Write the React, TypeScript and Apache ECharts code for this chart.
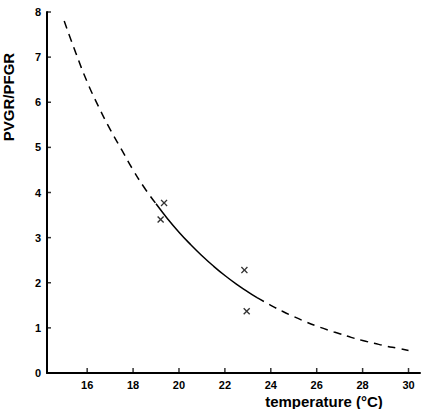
import React, { useEffect, useRef } from "react";
import * as echarts from "echarts";

// curve (temperature °C, PVGR/PFGR)
const curveXLeft = [15, 15.5, 16, 16.5, 17, 17.5, 18, 18.5, 19];
const curveYLeft = [7.8, 7.1, 6.45, 5.9, 5.4, 4.95, 4.5, 4.1, 3.75];
const curveXMid = [19, 19.5, 20, 20.5, 21, 21.5, 22, 22.5, 23, 23.4];
const curveYMid = [3.75, 3.42, 3.12, 2.85, 2.6, 2.37, 2.16, 1.97, 1.8, 1.67];
const curveXRight = [23.4, 24, 24.5, 25, 25.5, 26, 26.5, 27, 27.5, 28, 28.5, 29, 29.5, 30];
const curveYRight = [1.67, 1.5, 1.37, 1.25, 1.14, 1.04, 0.95, 0.87, 0.79, 0.72, 0.66, 0.6, 0.55, 0.5];

const obsX = [19.2, 19.35, 22.85, 22.95];
const obsY = [3.4, 3.77, 2.28, 1.37];

const xMin = 14.25;
const xMax = 30.5;
const yMin = 0;
const yMax = 8;
const xTicks = [16, 18, 20, 22, 24, 26, 28, 30];
const yTicks = [1, 2, 3, 4, 5, 6, 7, 8];

const zip = (xs: number[], ys: number[]) => xs.map((x, i) => [x, ys[i]]);

const CROSS =
  "path://M0,1.4L1.4,0L5,3.6L8.6,0L10,1.4L6.4,5L10,8.6L8.6,10L5,6.4L1.4,10L0,8.6L3.6,5Z";

export default function App() {
  const ref = useRef<HTMLDivElement>(null);
  useEffect(() => {
    const chart = echarts.init(ref.current!, null, { renderer: "svg" });
    const lab = { color: "#000", fontSize: 11, fontWeight: "bold" as const, fontFamily: "Liberation Sans" };
    chart.setOption({
      animation: false,
      backgroundColor: "#fff",
      grid: { left: 47, top: 12, right: 2, bottom: 36 },
      xAxis: {
        type: "value",
        min: xMin,
        max: xMax,
        splitLine: { show: false },
        axisLine: { show: true, onZero: false, lineStyle: { color: "#000", width: 2 } },
        axisTick: { show: false },
        axisLabel: { ...lab, customValues: xTicks, margin: 6 },
      },
      yAxis: {
        type: "value",
        min: yMin,
        max: yMax,
        interval: 1,
        splitLine: { show: false },
        axisLine: { show: true, onZero: false, lineStyle: { color: "#000", width: 2 } },
        axisTick: { show: false },
        axisLabel: { ...lab, margin: 6 },
      },
      series: [
        {
          // left axis line
          type: "line",
          data: [
            [xMin, yMin],
            [xMin, yMax],
          ],
          showSymbol: false,
          clip: false,
          silent: true,
          lineStyle: { color: "#000", width: 2 },
        },
        {
          // x-axis tick marks (pointing up, inside the plot)
          type: "scatter",
          data: xTicks.map((t) => [t, yMin]),
          symbol: "rect",
          symbolSize: [1.5, 5],
          symbolOffset: [0, -2.5],
          itemStyle: { color: "#000" },
          silent: true,
          clip: false,
        },
        {
          // y-axis tick marks (pointing right, inside the plot)
          type: "scatter",
          data: yTicks.map((t) => [xMin, t]),
          symbol: "rect",
          symbolSize: [4, 1.5],
          symbolOffset: [2, 0],
          itemStyle: { color: "#000" },
          silent: true,
          clip: false,
        },
        {
          type: "line",
          data: zip(curveXLeft, curveYLeft),
          smooth: true,
          showSymbol: false,
          lineStyle: { color: "#000", width: 1.5, type: [8, 6] },
        },
        {
          type: "line",
          data: zip(curveXMid, curveYMid),
          smooth: true,
          showSymbol: false,
          lineStyle: { color: "#000", width: 1.5, type: "solid" },
        },
        {
          type: "line",
          data: zip(curveXRight, curveYRight),
          smooth: true,
          showSymbol: false,
          lineStyle: { color: "#000", width: 1.5, type: [8, 6] },
        },
        {
          type: "scatter",
          data: zip(obsX, obsY),
          symbol: CROSS,
          symbolSize: 7,
          itemStyle: { color: "#000" },
        },
      ],
      graphic: [
        {
          type: "text",
          x: 8,
          y: 97,
          rotation: Math.PI / 2,
          style: {
            text: "PVGR/PFGR",
            fontSize: 15,
            fontWeight: "bold",
            fontFamily: "Liberation Sans",
            fill: "#000",
            align: "center",
            verticalAlign: "middle",
          },
        },
        {
          type: "text",
          x: 324,
          y: 401,
          style: {
            text: "temperature (°C)",
            fontSize: 15,
            fontWeight: "bold",
            fontFamily: "Liberation Sans",
            fill: "#000",
            align: "center",
            verticalAlign: "middle",
          },
        },
      ],
    });
    return () => chart.dispose();
  }, []);
  return <div ref={ref} style={{ width: 422, height: 409, position: "absolute", left: 0, top: 0 }} />;
}
